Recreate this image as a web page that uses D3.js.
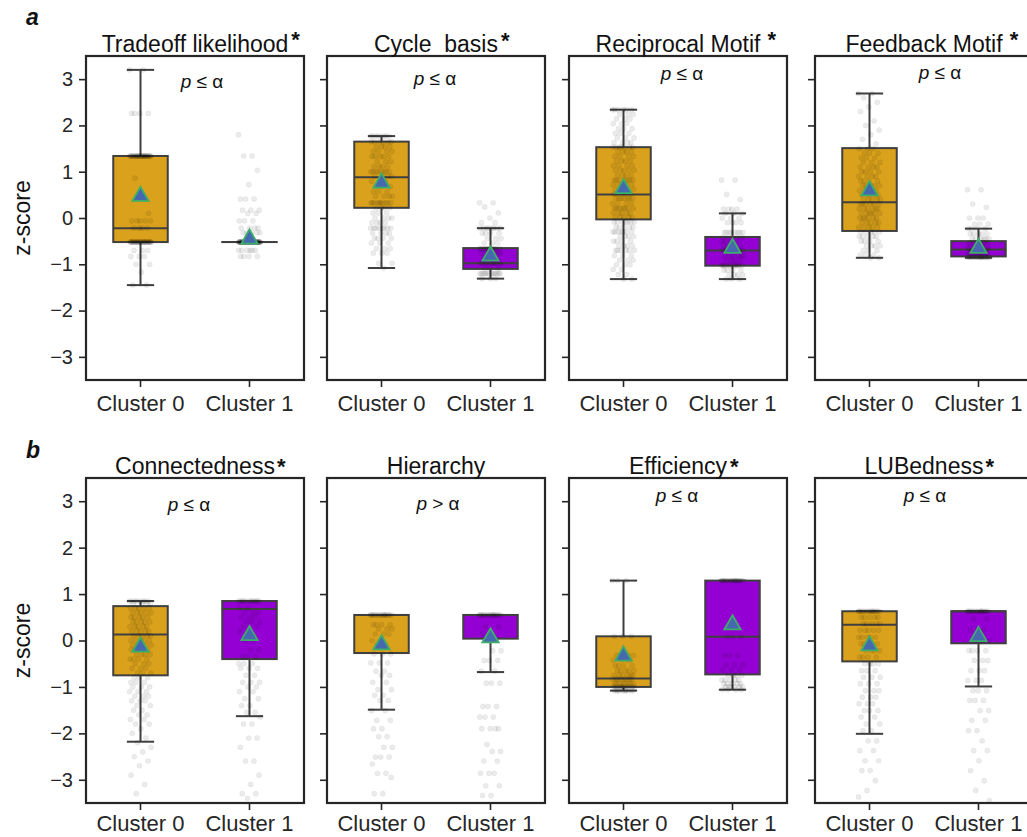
<!DOCTYPE html>
<html>
<head>
<meta charset="utf-8">
<script src="https://cdn.jsdelivr.net/npm/d3@7"></script>
<style>
  html, body { margin: 0; padding: 0; background: #fff; }
  svg { display: block; font-family: "Liberation Sans", Arial, sans-serif; }
</style>
</head>
<body>
<svg id="chart" width="1027" height="837"></svg>
<script>
// ---------------- DATA ----------------
const categories = ["Cluster 0", "Cluster 1"];
const titles = ["Tradeoff likelihood", "Cycle  basis", "Reciprocal Motif", "Feedback Motif",
                "Connectedness", "Hierarchy", "Efficiency", "LUBedness"];
const titleStar = [true, true, true, true, true, false, true, true];
const pLabels = ["≤", "≤", "≤", "≤", "≤", ">", "≤", "≤"];
const yTicks = [-3, -2, -1, 0, 1, 2, 3];

// box stats per panel: [lowWhisker, q1, median, q3, highWhisker, mean]
const cluster0Stats = [
  [-1.45, -0.52, -0.22, 1.34, 3.20, 0.47],
  [-1.08, 0.22, 0.88, 1.65, 1.77, 0.76],
  [-1.32, -0.03, 0.51, 1.53, 2.34, 0.64],
  [-0.86, -0.28, 0.34, 1.51, 2.69, 0.59],
  [-2.18, -0.75, 0.13, 0.74, 0.85, -0.14],
  [-1.49, -0.27, 0.55, 0.55, 0.55, -0.09],
  [-1.08, -1.00, -0.82, 0.09, 1.29, -0.33],
  [-2.01, -0.45, 0.34, 0.63, 0.63, -0.11]
];
const cluster1Stats = [
  [-0.52, -0.52, -0.52, -0.52, -0.52, -0.45],
  [-1.31, -1.10, -0.98, -0.65, -0.22, -0.82],
  [-1.32, -1.03, -0.70, -0.41, 0.10, -0.65],
  [-0.86, -0.83, -0.68, -0.50, -0.23, -0.65],
  [-1.63, -0.40, 0.68, 0.85, 0.85, 0.11],
  [-0.68, 0.04, 0.55, 0.55, 0.55, 0.06],
  [-1.06, -0.73, 0.08, 1.29, 1.29, 0.34],
  [-0.99, -0.06, 0.63, 0.63, 0.63, 0.09]
];

// strip points per panel as [value, count]
const cluster0Points = [
  [[3.2,2],[2.26,4],[1.34,30],[0.86,1],[0.1,1],[-0.06,5],[-0.22,4],[-0.52,30],[-0.7,3],[-0.83,3],[-1.0,2],[-1.17,1],[-1.45,2]],
  [[1.77,8],[1.65,6],[1.54,4],[1.44,4],[1.33,5],[1.22,3],[1.11,4],[1.0,8],[0.9,4],[0.79,3],[0.68,3],[0.57,3],[0.47,4],[0.33,10],[0.22,4],[0.11,3],[0.0,4],[-0.1,4],[-0.22,8],[-0.33,4],[-0.44,4],[-0.54,3],[-0.66,3],[-0.76,3],[-0.98,2],[-1.08,1]],
  [[2.34,6],[2.24,3],[2.14,3],[2.04,3],[1.93,3],[1.83,3],[1.73,3],[1.63,4],[1.53,7],[1.43,4],[1.33,4],[1.23,4],[1.13,4],[1.03,5],[0.92,4],[0.82,7],[0.72,5],[0.62,5],[0.52,5],[0.42,7],[0.31,4],[0.21,7],[0.11,5],[0.01,5],[-0.09,7],[-0.2,5],[-0.3,7],[-0.4,4],[-0.5,4],[-0.6,4],[-0.7,6],[-0.81,3],[-0.91,3],[-1.01,3],[-1.11,2],[-1.22,2],[-1.32,2]],
  [[2.69,2],[2.6,1],[2.5,1],[2.4,1],[2.3,1],[2.1,1],[2.0,1],[1.9,1],[1.8,1],[1.7,1],[1.6,1],[1.5,3],[1.4,3],[1.3,3],[1.2,3],[1.1,4],[1.0,4],[0.9,4],[0.8,4],[0.7,5],[0.6,5],[0.5,5],[0.4,5],[0.3,6],[0.2,6],[0.1,6],[0.0,6],[-0.1,5],[-0.2,5],[-0.3,5],[-0.4,5],[-0.5,4],[-0.6,4],[-0.7,3],[-0.8,3],[-0.86,2]],
  [[0.85,8],[0.8,4],[0.7,5],[0.6,5],[0.5,5],[0.4,5],[0.3,5],[0.2,5],[0.1,5],[0.0,5],[-0.1,5],[-0.2,4],[-0.3,4],[-0.4,4],[-0.5,3],[-0.6,3],[-0.7,3],[-0.8,3],[-0.9,3],[-1.0,3],[-1.1,3],[-1.2,3],[-1.3,3],[-1.4,2],[-1.5,2],[-1.6,2],[-1.7,2],[-1.8,2],[-1.9,1],[-2.0,1],[-2.1,1],[-2.2,1],[-2.3,1],[-2.4,1],[-2.5,1],[-2.6,1],[-2.7,1],[-2.9,1],[-3.1,1],[-3.3,1]],
  [[0.55,15],[0.34,4],[0.25,3],[0.14,3],[0.0,2],[-0.09,2],[-0.29,3],[-0.48,3],[-0.66,2],[-0.75,2],[-0.9,2],[-1.06,2],[-1.18,2],[-1.29,2],[-1.51,2],[-1.72,2],[-1.9,2],[-2.07,2],[-2.3,2],[-2.51,3],[-2.66,1],[-2.86,2],[-2.95,1],[-3.3,2]],
  [[1.29,3],[0.09,3],[-0.32,5],[-0.42,4],[-0.54,4],[-0.65,5],[-0.75,6],[-0.83,8],[-0.93,8],[-1.0,10],[-1.08,10]],
  [[0.63,15],[0.5,5],[0.36,5],[0.22,5],[0.07,5],[-0.07,5],[-0.22,4],[-0.36,4],[-0.5,4],[-0.65,3],[-0.79,3],[-0.93,3],[-1.08,3],[-1.22,3],[-1.36,3],[-1.51,3],[-1.65,2],[-1.8,2],[-1.94,2],[-2.16,2],[-2.37,2],[-2.59,2],[-2.8,2],[-3.02,1],[-3.23,1],[-3.37,1]]
];
const cluster1Points = [
  [[1.8,1],[1.34,2],[1.03,1],[0.72,1],[0.41,3],[0.17,3],[0.1,2],[-0.06,3],[-0.22,4],[-0.32,5],[-0.52,60],[-0.7,6],[-0.83,4]],
  [[0.33,2],[0.24,1],[0.11,1],[0.0,1],[-0.1,2],[-0.22,8],[-0.33,4],[-0.44,3],[-0.54,3],[-0.66,12],[-0.76,6],[-0.87,4],[-0.98,10],[-1.1,3],[-1.2,12],[-1.31,3]],
  [[0.82,2],[0.51,1],[0.4,1],[0.19,4],[0.1,3],[0.0,3],[-0.1,4],[-0.31,8],[-0.41,4],[-0.51,5],[-0.62,5],[-0.7,10],[-0.82,6],[-0.92,4],[-1.03,10],[-1.13,4],[-1.23,4],[-1.32,3]],
  [[0.61,2],[0.3,1],[0.23,1],[0.0,3],[-0.13,3],[-0.23,4],[-0.34,5],[-0.45,6],[-0.54,8],[-0.65,10],[-0.75,12],[-0.85,15]],
  [[0.85,12],[0.7,2],[0.6,3],[0.5,3],[0.4,3],[0.3,2],[0.2,2],[0.0,2],[-0.2,2],[-0.35,3],[-0.5,3],[-0.6,3],[-0.75,2],[-0.9,3],[-1.0,2],[-1.1,2],[-1.25,2],[-1.4,2],[-1.55,2],[-1.65,1],[-1.8,2],[-2.1,2],[-2.3,1],[-2.6,2],[-2.9,1],[-3.1,1],[-3.3,2],[-3.4,1]],
  [[0.55,15],[0.3,2],[0.14,2],[0.0,2],[-0.22,2],[-0.43,3],[-0.66,2],[-0.92,3],[-1.42,3],[-1.65,3],[-1.9,4],[-2.24,1],[-2.39,2],[-2.6,2],[-2.86,3],[-3.13,2],[-3.34,2]],
  [[1.29,15],[0.08,3],[-0.32,3],[-0.52,3],[-0.63,3],[-0.75,4],[-0.85,5],[-0.93,5],[-1.0,6],[-1.06,4]],
  [[0.63,15],[0.47,2],[0.22,3],[0.0,3],[-0.22,4],[-0.43,3],[-0.65,3],[-0.86,3],[-1.08,3],[-1.29,3],[-1.51,2],[-1.72,2],[-1.94,2],[-2.16,1],[-2.37,2],[-2.59,1],[-2.8,1],[-3.02,1],[-3.23,1],[-3.45,1]]
];

// ---------------- LAYOUT ----------------
const panelW = 218;
const panelLefts = [86, 327, 569, 815];
const rowTops = [56, 478];
const rowBottoms = [380, 803];
const rowLabelPad = [8, 5];
const pPos = [[202,88],[435,85],[682,80],[940,79],[189,511],[438,510],[677,502],[925,502]];
const starGap = [3, 3, 7, 7, 2, 0, 3, 2];
const starRaise = [-5, -4, -5, -5, 0, 0, 0, 0];
const colors = ["#DAA21C", "#9400D3"];
const edge = "#3f3f3f";

const svg = d3.select("#chart");
const defs = svg.append("defs");

const x = d3.scaleBand().domain(categories).range([0, panelW]).padding(0);
const boxW = x.bandwidth() * 0.5;
const capW = boxW * 0.5;
const golden = 0.6180339887;
const intFmt = d3.format("d");

for (let i = 0; i < 8; i++) {
  const row = Math.floor(i / 4), col = i % 4;
  const left = panelLefts[col];
  const top = rowTops[row], bottom = rowBottoms[row];
  const y = d3.scaleLinear().domain([-3.5, 3.5]).range([bottom, top]);

  const clipId = "clip" + i;
  defs.append("clipPath").attr("id", clipId)
    .append("rect").attr("x", 0).attr("y", top).attr("width", panelW).attr("height", bottom - top);

  const g = svg.append("g").attr("transform", `translate(${left},0)`);
  const content = g.append("g").attr("clip-path", `url(#${clipId})`);

  const stats = [cluster0Stats[i], cluster1Stats[i]];
  const pts = [cluster0Points[i], cluster1Points[i]];

  categories.forEach((cat, k) => {
    const cx = x(cat) + x.bandwidth() / 2;
    const [lo, q1, med, q3, hi, mean] = stats[k];
    const gb = content.append("g");
    gb.append("line").attr("x1", cx).attr("x2", cx).attr("y1", y(q3)).attr("y2", y(hi))
      .attr("stroke", edge).attr("stroke-width", 2);
    gb.append("line").attr("x1", cx).attr("x2", cx).attr("y1", y(q1)).attr("y2", y(lo))
      .attr("stroke", edge).attr("stroke-width", 2);
    gb.append("line").attr("x1", cx - capW / 2).attr("x2", cx + capW / 2).attr("y1", y(hi)).attr("y2", y(hi))
      .attr("stroke", edge).attr("stroke-width", 2);
    gb.append("line").attr("x1", cx - capW / 2).attr("x2", cx + capW / 2).attr("y1", y(lo)).attr("y2", y(lo))
      .attr("stroke", edge).attr("stroke-width", 2);
    gb.append("rect").attr("x", cx - boxW / 2).attr("y", y(q3))
      .attr("width", boxW).attr("height", Math.max(0.001, y(q1) - y(q3)))
      .attr("fill", colors[k]).attr("stroke", edge).attr("stroke-width", 2);
    gb.append("line").attr("x1", cx - boxW / 2).attr("x2", cx + boxW / 2).attr("y1", y(med)).attr("y2", y(med))
      .attr("stroke", edge).attr("stroke-width", 2);

    const flat = [];
    pts[k].forEach(([v, n]) => { for (let j = 0; j < n; j++) flat.push(v); });
    content.append("g").selectAll("circle").data(flat).join("circle")
      .attr("cx", (d, j) => cx + (((j * golden) % 1) - 0.5) * 22)
      .attr("cy", d => y(d))
      .attr("r", 2.6)
      .attr("fill", "#000")
      .attr("fill-opacity", 0.08)
      .attr("stroke", "#000")
      .attr("stroke-opacity", 0.05)
      .attr("stroke-width", 0.8);

    content.append("path")
      .attr("d", d3.symbol(d3.symbolTriangle, 115)())
      .attr("transform", `translate(${cx},${y(mean)})`)
      .attr("fill", "#4668ae").attr("stroke", "#3dae6a").attr("stroke-width", 1.8);
  });

  const yAxis = d3.axisLeft(y).tickValues(yTicks).tickFormat(intFmt).tickSize(7).tickPadding(6);
  const ya = g.append("g").call(yAxis);
  ya.select(".domain").remove();
  ya.selectAll(".tick line").attr("stroke", "#262626").attr("stroke-width", 1.6);
  ya.selectAll(".tick text").attr("font-size", 20).attr("fill", "#262626")
    .attr("font-family", "'Liberation Sans', Arial, sans-serif");
  if (col !== 0) ya.selectAll(".tick text").remove();

  const xAxis = d3.axisBottom(x).tickSize(7).tickPadding(rowLabelPad[row]);
  const xa = g.append("g").attr("transform", `translate(0,${bottom})`).call(xAxis);
  xa.select(".domain").remove();
  xa.selectAll(".tick line").attr("stroke", "#262626").attr("stroke-width", 1.6);
  xa.selectAll(".tick text").attr("font-size", 22).attr("fill", "#262626")
    .attr("font-family", "'Liberation Sans', Arial, sans-serif");

  g.append("rect").attr("x", 0).attr("y", top).attr("width", panelW).attr("height", bottom - top)
    .attr("fill", "none").attr("stroke", "#262626").attr("stroke-width", 2.2);

  const tcx = panelW / 2;
  const tY = top - 4;
  const tt = g.append("text").attr("x", tcx).attr("y", tY)
    .attr("text-anchor", "middle").attr("font-size", 23).attr("fill", "#111")
    .style("white-space", "pre").text(titles[i]);
  if (titleStar[i]) {
    const w = tt.node().getComputedTextLength();
    g.append("text").attr("x", tcx + w / 2 + starGap[i]).attr("y", tY + starRaise[i])
      .attr("font-size", 22).attr("font-weight", "bold").attr("fill", "#111").text("*");
  }

  const pt = svg.append("text").attr("x", pPos[i][0]).attr("y", pPos[i][1])
    .attr("text-anchor", "middle").attr("font-size", 19).attr("fill", "#111");
  pt.append("tspan").attr("font-style", "italic").text("p");
  pt.append("tspan").text(" " + pLabels[i] + " α");

  if (col === 0) {
    svg.append("text").attr("transform", `translate(30,${(top + bottom) / 2}) rotate(-90)`)
      .attr("text-anchor", "middle").attr("font-size", 23).attr("fill", "#111").text("z-score");
  }
}

svg.append("text").attr("x", 26).attr("y", 25).attr("font-size", 23).attr("font-weight", "bold")
  .attr("font-style", "italic").attr("fill", "#111").text("a");
svg.append("text").attr("x", 26).attr("y", 458).attr("font-size", 23).attr("font-weight", "bold")
  .attr("font-style", "italic").attr("fill", "#111").text("b");
</script>
</body>
</html>
